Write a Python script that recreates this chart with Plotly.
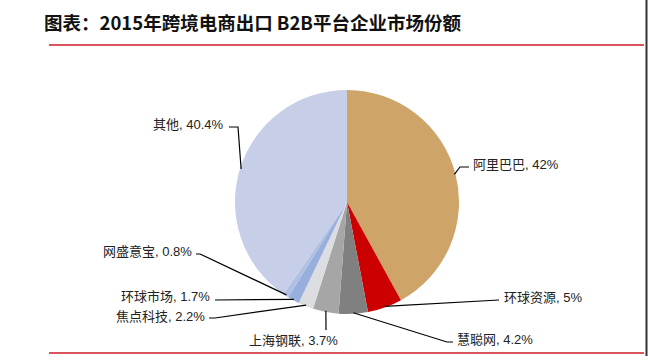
import math
import plotly.graph_objects as go

# ---- data ----
companies = ["阿里巴巴", "环球资源", "慧聪网", "上海钢联", "焦点科技", "环球市场", "网盛意宝", "其他"]
shares = [42, 5, 4.2, 3.7, 2.2, 1.7, 0.8, 40.4]
colors = ["#CFA468", "#CC0000", "#808080", "#A6A6A6", "#DCDDE0", "#98AEDC", "#B0C0E4", "#C6CEE8"]
title_text = "图表：2015年跨境电商出口 B2B平台企业市场份额"

W, H = 648, 360
CX, CY, R = 347, 202, 112  # pie centre / radius in pixels

# label placement (layout only): text x, text y, anchor, elbow points
label_layout = {
    "阿里巴巴": dict(tx=471, ty=165, anchor="left", elbow=[(460, 167), (469, 167)]),
    "环球资源": dict(tx=502, ty=297, anchor="left", elbow=[(499, 300)]),
    "慧聪网": dict(tx=455, ty=339, anchor="left", elbow=[(447, 342), (453, 342)]),
    "上海钢联": dict(tx=293, ty=340, anchor="center", elbow=[(326, 330)]),
    "焦点科技": dict(tx=207, ty=316, anchor="right", elbow=[(215, 318), (209, 318)]),
    "环球市场": dict(tx=212, ty=296, anchor="right", elbow=[(215, 300)]),
    "网盛意宝": dict(tx=194, ty=251, anchor="right", elbow=[(200, 254), (196, 254)]),
    "其他": dict(tx=226, ty=124, anchor="right", elbow=[(238, 127), (229, 127)]),
}

def px(x):
    return x / W

def py(y):
    return 1 - y / H

fig = go.Figure(go.Pie(
    labels=companies,
    values=shares,
    sort=False,
    direction="clockwise",
    rotation=0,
    marker=dict(colors=colors, line=dict(width=0)),
    textinfo="none",
    hoverinfo="label+percent",
    showlegend=False,
    domain=dict(x=[px(CX - R), px(CX + R)], y=[py(CY + R), py(CY - R)]),
))

shapes = []
annotations = []
total = sum(shares)
cum = 0
for name, val in zip(companies, shares):
    mid = (cum + val / 2) / total * 2 * math.pi
    cum += val
    ex = CX + R * math.sin(mid) * 0.99
    ey = CY - R * math.cos(mid) * 0.99
    lay = label_layout[name]
    pts = [(ex, ey)] + lay["elbow"]
    path = "M " + " L ".join(f"{px(x):.5f},{py(y):.5f}" for x, y in pts)
    shapes.append(dict(type="path", path=path, xref="paper", yref="paper",
                       line=dict(color="#000000", width=1.2)))
    annotations.append(dict(
        x=px(lay["tx"]), y=py(lay["ty"]), xref="paper", yref="paper",
        text=f"{name}, {val:g}%", showarrow=False,
        xanchor=lay["anchor"], yanchor="middle",
        font=dict(family="Liberation Sans, Noto Sans CJK SC", size=13, color="#222222"),
    ))

# title
annotations.append(dict(
    x=px(42), y=py(22), xref="paper", yref="paper", text=f"<b>{title_text}</b>",
    showarrow=False, xanchor="left", yanchor="middle",
    font=dict(family="Noto Sans CJK SC", size=18.5, color="#111111"),
))

# decorative rules
shapes.append(dict(type="line", xref="paper", yref="paper", x0=px(49), x1=px(644),
                   y0=py(45), y1=py(45), line=dict(color="#D9545C", width=2)))
shapes.append(dict(type="line", xref="paper", yref="paper", x0=px(49), x1=px(644),
                   y0=py(353), y1=py(353), line=dict(color="#D9545C", width=2)))
shapes.append(dict(type="line", xref="paper", yref="paper", x0=px(646.5), x1=px(646.5),
                   y0=py(0), y1=py(356), line=dict(color="#333333", width=2)))

fig.update_layout(
    width=W, height=H,
    margin=dict(l=0, r=0, t=0, b=0),
    paper_bgcolor="white", plot_bgcolor="white",
    shapes=shapes, annotations=annotations,
)

fig.write_html("out.html")
